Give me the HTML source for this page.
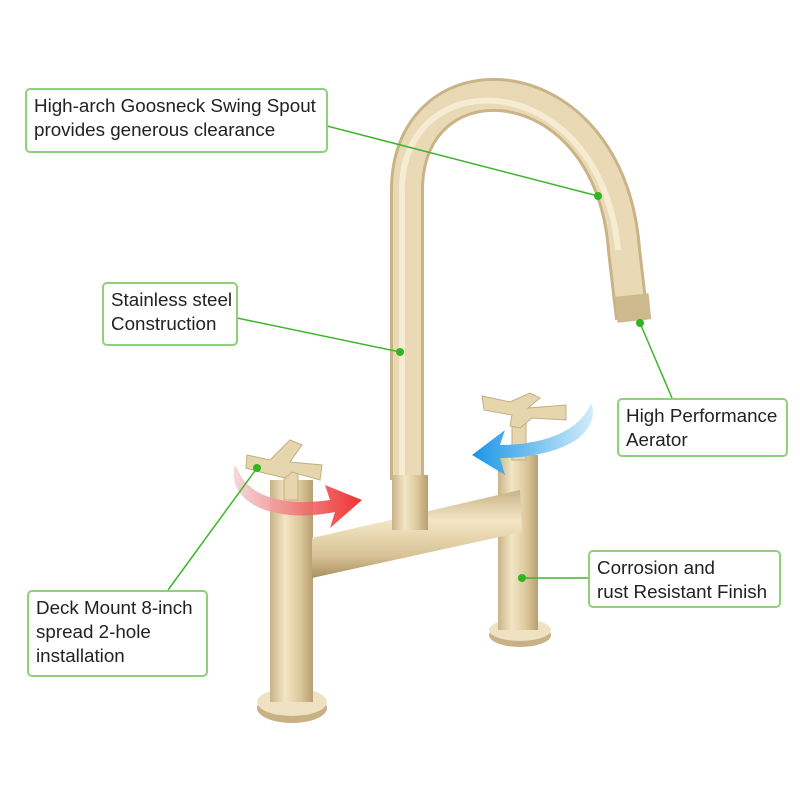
<!DOCTYPE html>
<html><head><style>
body{margin:0;width:800px;height:800px;background:#fff;overflow:hidden;position:relative;font-family:"Liberation Sans","DejaVu Sans",sans-serif}
.b{position:absolute;border:2px solid #8fd07a;border-radius:5px;background:#fff;color:#222;font-size:18.8px;line-height:24px;padding:4px 7px;box-sizing:border-box;white-space:nowrap}
svg{position:absolute;left:0;top:0}
</style></head><body>
<svg width="800" height="800" viewBox="0 0 800 800">
<defs>
<linearGradient id="gv" x1="0" x2="1" y1="0" y2="0">
<stop offset="0" stop-color="#c9b387"/><stop offset="0.35" stop-color="#f3e6c6"/><stop offset="0.7" stop-color="#dcc89c"/><stop offset="1" stop-color="#b89f70"/></linearGradient>
<linearGradient id="gh" x1="0" x2="0" y1="0" y2="1">
<stop offset="0" stop-color="#c9b387"/><stop offset="0.35" stop-color="#f3e6c6"/><stop offset="0.75" stop-color="#d8c296"/><stop offset="1" stop-color="#a88f60"/></linearGradient>
<linearGradient id="red" x1="0" x2="1"><stop offset="0" stop-color="#f3d4d4"/><stop offset="1" stop-color="#ee1c1c"/></linearGradient>
<linearGradient id="blue" x1="1" x2="0"><stop offset="0" stop-color="#d2ecfa"/><stop offset="1" stop-color="#1a95e6"/></linearGradient>
</defs>
<path d="M407,480 L407,190 C407,50 610,60 624,250 L632,318" fill="none" stroke="#c9b387" stroke-width="34"/>
<path d="M407,480 L407,190 C407,50 610,60 624,250 L632,318" fill="none" stroke="#e9dab5" stroke-width="28"/>
<path d="M402,480 L402,190 C402,60 600,65 618,250" fill="none" stroke="#f6ecd4" stroke-width="6"/>
<rect x="616" y="295" width="34" height="26" fill="#cdb98e" transform="rotate(-6 633 308)"/>
<ellipse cx="292" cy="708" rx="35" ry="15" fill="#c8b185"/>
<ellipse cx="292" cy="702" rx="35" ry="14" fill="#efe2c2"/>
<rect x="270" y="480" width="43" height="222" fill="url(#gv)"/>
<ellipse cx="520" cy="635" rx="31" ry="12" fill="#c8b185"/>
<ellipse cx="520" cy="630" rx="31" ry="11" fill="#efe2c2"/>
<rect x="498" y="455" width="40" height="175" fill="url(#gv)"/>
<polygon points="312,538 520,490 522,532 312,578" fill="url(#gh)"/>
<rect x="392" y="475" width="36" height="55" fill="url(#gv)"/>
<g fill="#e6d6ae" stroke="#c4ad80" stroke-width="1">
<rect x="284" y="470" width="14" height="30"/>
<path d="M247,455 L270,460 L290,440 L302,445 L290,462 L322,465 L320,480 L292,472 L285,478 L260,472 L246,468Z"/>
<rect x="512" y="420" width="14" height="40"/>
<path d="M482,396 L510,402 L530,393 L540,398 L528,408 L566,405 L566,420 L532,418 L520,428 L510,426 L512,415 L484,410Z"/>
</g>
<path d="M235,465 C225,500 270,525 335,512 L330,528 L362,500 L325,485 L330,500 C280,507 248,495 238,470Z" fill="url(#red)" opacity="0.9"/>
<path d="M592,405 C600,440 550,458 500,458 L505,475 L472,455 L505,430 L500,445 C545,445 580,430 590,405Z" fill="url(#blue)"/>
<g stroke="#3db52a" stroke-width="1.5" fill="none">
<line x1="327" y1="126" x2="598" y2="196"/>
<line x1="237" y1="318" x2="400" y2="352"/>
<line x1="640" y1="323" x2="672" y2="398"/>
<line x1="522" y1="578" x2="588" y2="578"/>
<line x1="168" y1="590" x2="257" y2="468"/>
</g>
<g fill="#2fb51e">
<circle cx="598" cy="196" r="4"/><circle cx="400" cy="352" r="4"/><circle cx="640" cy="323" r="4"/><circle cx="522" cy="578" r="4"/><circle cx="257" cy="468" r="4"/>
</g>
</svg>
<div class="b" style="left:25px;top:88px;width:303px;height:65px">High-arch Goosneck Swing Spout<br>provides generous clearance</div>
<div class="b" style="left:102px;top:282px;width:136px;height:64px">Stainless steel<br>Construction</div>
<div class="b" style="left:617px;top:398px;width:171px;height:59px">High Performance<br>Aerator</div>
<div class="b" style="left:588px;top:550px;width:193px;height:58px">Corrosion and<br>rust Resistant Finish</div>
<div class="b" style="left:27px;top:590px;width:181px;height:87px">Deck Mount 8-inch<br>spread 2-hole<br>installation</div>
</body></html>
